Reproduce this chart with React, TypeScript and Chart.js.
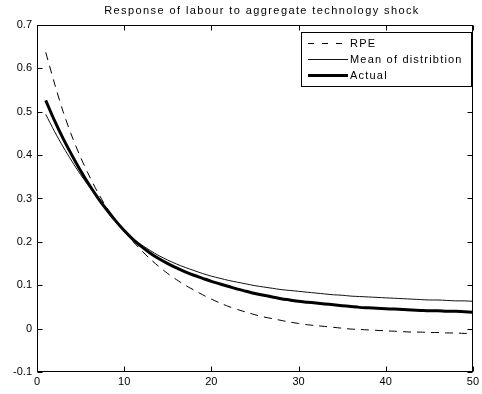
import React, { useEffect, useRef } from "react";
import { Chart, registerables } from "chart.js";

Chart.register(...registerables);

const PERIODS = [
  1, 2, 3, 4, 5, 6, 7, 8, 9, 10, 11, 12, 13, 14, 15, 16, 17, 18, 19, 20, 21, 22, 23, 24, 25,
  26, 27, 28, 29, 30, 31, 32, 33, 34, 35, 36, 37, 38, 39, 40, 41, 42, 43, 44, 45, 46, 47, 48, 49, 50,
];

const RPE = [
  0.637, 0.566, 0.5, 0.444, 0.395, 0.352, 0.313, 0.279, 0.25, 0.224,
  0.201, 0.18, 0.16, 0.143, 0.127, 0.113, 0.1, 0.089, 0.078, 0.068,
  0.059, 0.051, 0.044, 0.038, 0.032, 0.027, 0.023, 0.019, 0.015, 0.012,
  0.009, 0.007, 0.005, 0.003, 0.001, -0.001, -0.002, -0.003, -0.004, -0.005,
  -0.006, -0.007, -0.008, -0.008, -0.009, -0.009, -0.01, -0.01, -0.011, -0.011,
];

const MEAN_OF_DISTRIBUTION = [
  0.494, 0.455, 0.419, 0.386, 0.355, 0.327, 0.299, 0.272, 0.247, 0.226,
  0.208, 0.193, 0.18, 0.168, 0.158, 0.149, 0.141, 0.134, 0.127, 0.121,
  0.116, 0.111, 0.107, 0.103, 0.099, 0.096, 0.093, 0.09, 0.088, 0.086,
  0.084, 0.082, 0.08, 0.078, 0.077, 0.075, 0.074, 0.073, 0.072, 0.071,
  0.07, 0.069, 0.068, 0.067, 0.066, 0.066, 0.065, 0.064, 0.064, 0.063,
];

const ACTUAL = [
  0.526, 0.48, 0.438, 0.4, 0.364, 0.331, 0.301, 0.274, 0.249, 0.226,
  0.206, 0.189, 0.174, 0.161, 0.15, 0.14, 0.131, 0.123, 0.116, 0.109,
  0.103, 0.097, 0.091, 0.086, 0.081, 0.077, 0.073, 0.069, 0.066, 0.063,
  0.061, 0.059, 0.057, 0.055, 0.053, 0.051, 0.049, 0.048, 0.047, 0.046,
  0.045, 0.044, 0.043, 0.042, 0.041, 0.041, 0.04, 0.04, 0.039, 0.038,
];

const X_TICKS = [0, 10, 20, 30, 40, 50];
const Y_TICKS = [-0.1, 0, 0.1, 0.2, 0.3, 0.4, 0.5, 0.6, 0.7];
const Y_TICK_LABELS = ["-0.1", "0", "0.1", "0.2", "0.3", "0.4", "0.5", "0.6", "0.7"];

const TITLE = "Response of labour to aggregate technology shock";
const SERIES_NAMES = ["RPE", "Mean of distribtion", "Actual"];

const FONT = "Arial, 'Liberation Sans', sans-serif";

export default function App() {
  const ref = useRef<HTMLCanvasElement>(null);

  useEffect(() => {
    if (!ref.current) return;

    const framePlugin = {
      id: "matlabFrame",
      afterDraw(chart: any) {
        const { ctx, chartArea: a, scales } = chart;
        ctx.save();
        ctx.strokeStyle = "#000";
        ctx.lineWidth = 1;
        ctx.setLineDash([]);
        const L = Math.round(a.left) + 0.5;
        const R = Math.round(a.right) - 0.5;
        const T = Math.round(a.top) + 0.5;
        const B = Math.round(a.bottom) - 0.5;
        ctx.strokeRect(L, T, R - L, B - T);
        const tl = 5;
        ctx.beginPath();
        for (const v of X_TICKS) {
          const px = Math.round(scales.x.getPixelForValue(v)) + 0.5;
          ctx.moveTo(px, B);
          ctx.lineTo(px, B - tl);
          ctx.moveTo(px, T);
          ctx.lineTo(px, T + tl);
        }
        for (const v of Y_TICKS) {
          const py = Math.round(scales.y.getPixelForValue(v)) + 0.5;
          ctx.moveTo(L, py);
          ctx.lineTo(L + tl, py);
          ctx.moveTo(R, py);
          ctx.lineTo(R - tl, py);
        }
        ctx.stroke();

        // title
        ctx.fillStyle = "#000";
        ctx.font = `11px ${FONT}`;
        (ctx as any).letterSpacing = "1.4px";
        ctx.textAlign = "center";
        ctx.textBaseline = "middle";
        ctx.fillText(TITLE, 262, 11);

        // legend
        const bx = 301.5, by = 32.5, bw = 170, bh = 54;
        ctx.fillStyle = "#fff";
        ctx.fillRect(bx, by, bw, bh);
        ctx.strokeStyle = "#000";
        ctx.lineWidth = 1;
        ctx.strokeRect(bx, by, bw, bh);
        const rows = [43, 59, 75];
        const legendDash = [[6, 8], [], []];
        chart.data.datasets.forEach((ds: any, i: number) => {
          ctx.save();
          ctx.strokeStyle = ds.borderColor;
          ctx.lineWidth = ds.borderWidth;
          ctx.setLineDash(legendDash[i]);
          ctx.beginPath();
          ctx.moveTo(308, rows[i] + 0.5);
          ctx.lineTo(348, rows[i] + 0.5);
          ctx.stroke();
          ctx.restore();
          ctx.fillStyle = "#000";
          ctx.font = `11px ${FONT}`;
          (ctx as any).letterSpacing = "1.2px";
          ctx.textAlign = "left";
          ctx.textBaseline = "middle";
          ctx.fillText(SERIES_NAMES[i], 350, rows[i] + 0.5);
        });
        ctx.restore();
      },
    };

    const toPoints = (ys: number[]) => PERIODS.map((x, i) => ({ x, y: ys[i] }));

    const chart = new Chart(ref.current, {
      type: "line",
      data: {
        datasets: [
          {
            label: SERIES_NAMES[0],
            data: toPoints(RPE),
            borderColor: "#000",
            borderWidth: 1,
            borderDash: [8, 6],
            pointRadius: 0,
            tension: 0.3,
            fill: false,
          },
          {
            label: SERIES_NAMES[1],
            data: toPoints(MEAN_OF_DISTRIBUTION),
            borderColor: "#111",
            borderWidth: 1,
            pointRadius: 0,
            tension: 0.3,
            fill: false,
          },
          {
            label: SERIES_NAMES[2],
            data: toPoints(ACTUAL),
            borderColor: "#000",
            borderWidth: 3,
            pointRadius: 0,
            tension: 0.3,
            fill: false,
          },
        ],
      },
      options: {
        animation: false,
        responsive: false,
        devicePixelRatio: 1,
        layout: { padding: { top: 25, right: 8, left: 0, bottom: 0 } },
        plugins: {
          legend: { display: false },
          title: { display: false },
          tooltip: { enabled: false },
        },
        scales: {
          x: {
            type: "linear",
            min: 0,
            max: 50,
            grid: { display: false, drawTicks: false },
            border: { display: false },
            afterBuildTicks: (axis: any) => {
              axis.ticks = X_TICKS.map((v) => ({ value: v }));
            },
            afterFit: (axis: any) => {
              axis.height = 22;
            },
            ticks: {
              color: "#000",
              font: { family: FONT, size: 11 },
              padding: 3,
              maxRotation: 0,
              autoSkip: false,
              callback: (v: any) => String(v),
            },
          },
          y: {
            type: "linear",
            min: -0.1,
            max: 0.7,
            grid: { display: false, drawTicks: false },
            border: { display: false },
            afterBuildTicks: (axis: any) => {
              axis.ticks = Y_TICKS.map((v) => ({ value: v }));
            },
            afterFit: (axis: any) => {
              axis.width = 37;
            },
            ticks: {
              color: "#000",
              font: { family: FONT, size: 11 },
              padding: 5,
              autoSkip: false,
              callback: (v: any) => {
                const i = Y_TICKS.findIndex((t) => Math.abs(t - v) < 1e-9);
                return i >= 0 ? Y_TICK_LABELS[i] : "";
              },
            },
          },
        },
      },
      plugins: [framePlugin],
    });

    return () => chart.destroy();
  }, []);

  return (
    <div style={{ position: "absolute", left: 0, top: 0, width: 482, height: 394, background: "#fff" }}>
      <canvas ref={ref} width={482} height={394} style={{ display: "block", width: 482, height: 394 }} />
    </div>
  );
}
